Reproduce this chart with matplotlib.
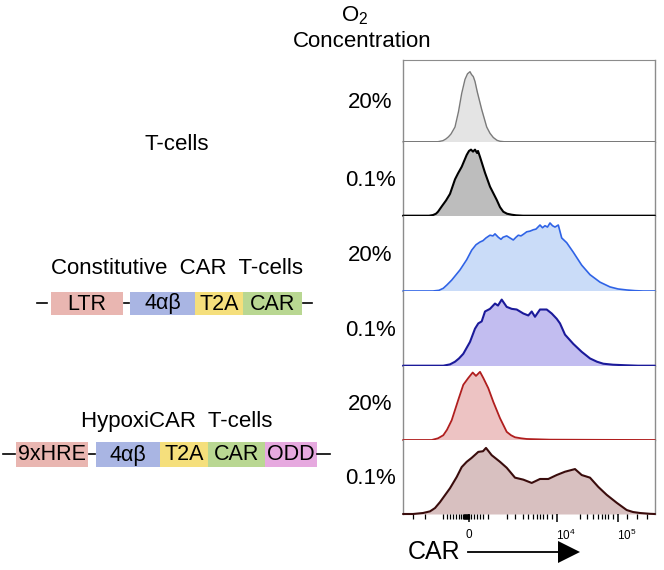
import matplotlib
matplotlib.use("Agg")
import matplotlib.pyplot as plt
from matplotlib.patches import Rectangle, Polygon

plt.rcParams['font.family'] = ['Liberation Sans', 'DejaVu Sans']
plt.rcParams['mathtext.fontset'] = 'custom'
plt.rcParams['mathtext.rm'] = 'Liberation Sans'
plt.rcParams['mathtext.it'] = 'Liberation Sans'

# ---- data: CAR histograms, % of mode vs. display channel (0-252) ----
o2_labels = ['20%', '0.1%', '20%', '0.1%', '20%', '0.1%']

tcell_20_x = [0, 35, 40, 43, 45.5, 48, 52, 55.5, 58.7, 62, 64.5, 67, 68.5, 70.3, 72, 74.3, 78.7, 83.7,
              87, 90.3, 94, 97, 101, 252]
tcell_20_y = [0, 0, 1.5, 4, 7, 11, 21, 43, 69, 89, 97, 100, 96, 93, 86, 71, 46, 21, 12, 6, 2, 0.6, 0, 0]

tcell_01_x = [0, 26, 30, 33, 35, 38.7, 43, 47, 52, 55, 58.7, 63.7, 66, 68, 70, 72, 74, 75, 77, 82, 87,
              93.7, 97, 100.3, 104, 108.7, 113, 120, 252]
tcell_01_y = [0, 0, 1, 3, 6, 14, 23, 33, 55, 64, 74, 92, 98, 100, 97, 100, 95, 98, 89, 65, 44, 24, 13,
              6, 3, 1.5, 0.6, 0, 0]

const_20_x = [0, 30, 36, 40.3, 44, 48.7, 57, 63.7, 68.7, 73, 77, 80, 83, 87, 90, 92, 95.3, 98, 100,
              103.7, 107, 110.3, 113, 115.3, 118, 121, 123.7, 127, 130.3, 133, 137, 139.5, 142, 144.5,
              147, 149.5, 152, 155.3, 158.7, 163.7, 170.3, 178.7, 187, 197, 207, 215, 223.7, 232, 240, 252]
const_20_y = [0, 0, 1, 4, 9, 16, 31, 46, 60, 68, 72, 74, 78, 82, 81, 84, 79, 76, 79, 81, 78, 75, 79,
              82, 81, 84, 87, 88, 90, 91, 97, 93, 96, 94, 100, 96, 94, 97, 78, 71, 57, 38, 24, 13, 6,
              3, 1.5, 0.5, 0, 0]

const_01_x = [0, 40.3, 47, 52, 56, 60.3, 67, 72, 75.3, 78.7, 82, 87, 92, 95, 98.7, 103.7, 108.7, 113.7,
              120.3, 125.3, 128.7, 132, 137, 143.7, 148.7, 153.7, 157, 162, 170.3, 178.7, 187, 194,
              200.3, 210, 222, 235, 252]
const_01_y = [0, 0, 2, 6, 11, 18, 36, 56, 64, 67, 82, 86, 94, 91, 100, 89, 86, 85, 79, 76, 82, 74, 85,
              85, 79, 71, 64, 47, 33, 21, 11, 6, 3, 1.5, 0.7, 0, 0]

hypoxi_20_x = [0, 28.7, 35, 40.3, 44, 48.7, 55.3, 60.3, 65.3, 69.7, 73, 77, 80.3, 85.3, 90.3, 97,
               103.7, 108, 112, 118, 123.7, 147, 200, 252]
hypoxi_20_y = [0, 0, 2.5, 7, 15, 29, 59, 81, 91, 99, 94, 100, 91, 76, 56, 32, 12, 7, 4, 2.5, 1.5, 0.5,
               0.2, 0]

hypoxi_01_x = [0, 10, 20, 27, 32, 37, 47, 53.7, 58.7, 63.7, 68.7, 75.3, 80, 83, 88.7, 97, 103.7, 112,
               120.3, 128.7, 137, 145.3, 153.7, 162, 172, 178.7, 187, 195.3, 203.7, 213.7, 223.7, 230,
               237, 247, 252]
hypoxi_01_y = [0, 0, 1.5, 4, 9, 18, 39, 56, 71, 79, 85, 94, 95, 100, 89, 79, 70, 55, 52, 47, 53, 53, 59,
               64, 68, 59, 55, 41, 29, 17, 6, 3, 1.5, 0.3, 0]

series_x = [tcell_20_x, tcell_01_x, const_20_x, const_01_x, hypoxi_20_x, hypoxi_01_x]
series_y = [tcell_20_y, tcell_01_y, const_20_y, const_01_y, hypoxi_20_y, hypoxi_01_y]

fill_colors = ['#e4e4e4', '#bdbdbd', '#cadcf8', '#c2bdf0', '#edc3c3', '#d8c0c0']
line_colors = ['#7a7a7a', '#000000', '#2f63e6', '#1b1a9a', '#b01e1e', '#3a0c0c']
line_widths = [1.0, 1.5, 1.2, 1.5, 1.3, 1.5]
y_tops = [116.7, 112, 110.7, 113, 109, 112]
row_heights = [81.7, 74, 75.3, 74.7, 74.3, 74]

# x axis (biexponential display) ticks, in channel units
major_ticks = [66, 153.7, 215.3]
major_labels = ['0', '$10^4$', '$10^5$']
minor_ticks = [10.3, 22, 40.3, 43.5, 46.5, 49.5, 52.5, 55.5, 58, 60, 60.5, 61, 61.5, 62, 62.5, 63,
               63.5, 64, 64.5, 65, 65.5, 68, 71, 74, 77, 80, 85.3, 103.7, 112, 120.3, 125.3, 130.3,
               133.7, 137, 140, 143.7, 148.7, 177, 183.7, 190.3, 195, 198.7, 202, 205, 210, 223.7,
               233.7, 243.7]

# vector constructs
constitutive_parts = ['LTR', '4αβ', 'T2A', 'CAR']
hypoxi_parts = ['9xHRE', '4αβ', 'T2A', 'CAR', 'ODD']
part_colors = {'LTR': '#e9b6b1', '9xHRE': '#e9b6b1', '4αβ': '#a9b5e3',
               'T2A': '#f5df7c', 'CAR': '#b9d792', 'ODD': '#e6a9df'}

W, H = 664, 570
fig = plt.figure(figsize=(W / 100, H / 100), dpi=100)

# overlay in pixel coordinates for the annotations
ov = fig.add_axes([0, 0, 1, 1])
ov.set_xlim(0, W)
ov.set_ylim(H, 0)
ov.axis('off')

# histogram stack
gs = fig.add_gridspec(6, 1, left=403 / W, right=655 / W, top=1 - 60 / H, bottom=1 - 514 / H,
                      hspace=0, height_ratios=row_heights)
axes = []
for i in range(6):
    ax = fig.add_subplot(gs[i])
    ax.fill_between(series_x[i], series_y[i], 0, color=fill_colors[i], lw=0)
    ax.plot(series_x[i], series_y[i], color=line_colors[i], lw=line_widths[i], clip_on=False,
            solid_joinstyle='round', solid_capstyle='round', zorder=3)
    ax.set_xlim(0, 252)
    ax.set_ylim(0, y_tops[i])
    ax.set_yticks([])
    for s in ['left', 'right']:
        ax.spines[s].set_color('#8c8c8c')
        ax.spines[s].set_linewidth(1.0)
    ax.spines['bottom'].set_visible(False)
    ax.spines['top'].set_visible(i == 0)
    ax.spines['top'].set_color('#8c8c8c')
    if i < 5:
        ax.set_xticks([])
    axes.append(ax)
    # O2 label
    yc = 60 + sum(row_heights[:i]) + row_heights[i] / 2
    ov.text(370, yc + 2, o2_labels[i], fontsize=16, ha='center', va='center')

bax = axes[-1]
bax.set_xticks(major_ticks)
bax.set_xticklabels([])
bax.set_xticks(minor_ticks, minor=True)
bax.tick_params(axis='x', which='major', direction='out', length=6, width=1.1, color='black')
bax.tick_params(axis='x', which='minor', direction='out', length=3.5, width=0.9, color='black')
for t, lab in zip(major_ticks, major_labels):
    ov.text(403 + t + (0 if lab == '0' else -1), 535, lab, fontsize=8.5,
            ha='center' if lab == '0' else 'left', va='center')

# headers
ov.text(355, 21, 'O$_2$', fontsize=16, ha='center', va='baseline')
ov.text(362, 47, 'Concentration', fontsize=16, ha='center', va='baseline')

# group titles
ov.text(177, 144, 'T-cells', fontsize=16, ha='center', va='center')
ov.text(177, 268, 'Constitutive  CAR  T-cells', fontsize=16, ha='center', va='center')
ov.text(177, 421, 'HypoxiCAR  T-cells', fontsize=16, ha='center', va='center')


def draw_construct(parts, edges, yc, h, dashes):
    for (x0, x1) in dashes:
        ov.plot([x0, x1], [yc, yc], color='black', lw=1.2)
    for name, (x0, x1) in zip(parts, edges):
        ov.add_patch(Rectangle((x0, yc - h / 2), x1 - x0, h, facecolor=part_colors[name],
                               edgecolor='none'))
        ov.text((x0 + x1) / 2, yc + 1, name, fontsize=15.5, ha='center', va='center')


draw_construct(constitutive_parts, [(50.7, 122.7), (130, 195), (195, 243.3), (243.3, 301.7)],
               303, 23, [(36.7, 46.7), (123.5, 128.5), (302.5, 312)])
draw_construct(hypoxi_parts, [(16, 88.3), (96, 160), (160, 208.3), (208.3, 265), (265, 316.7)],
               454, 25, [(3.3, 15), (89, 95), (317, 330)])

# x axis title with arrow
ov.text(434, 552, 'CAR', fontsize=18, ha='center', va='center')
ov.plot([468, 560], [552, 552], color='black', lw=1.3)
ov.add_patch(Polygon([[558, 541], [580, 552], [558, 563]], closed=True, facecolor='black',
                     edgecolor='none'))

fig.savefig('out.png', dpi=100)
